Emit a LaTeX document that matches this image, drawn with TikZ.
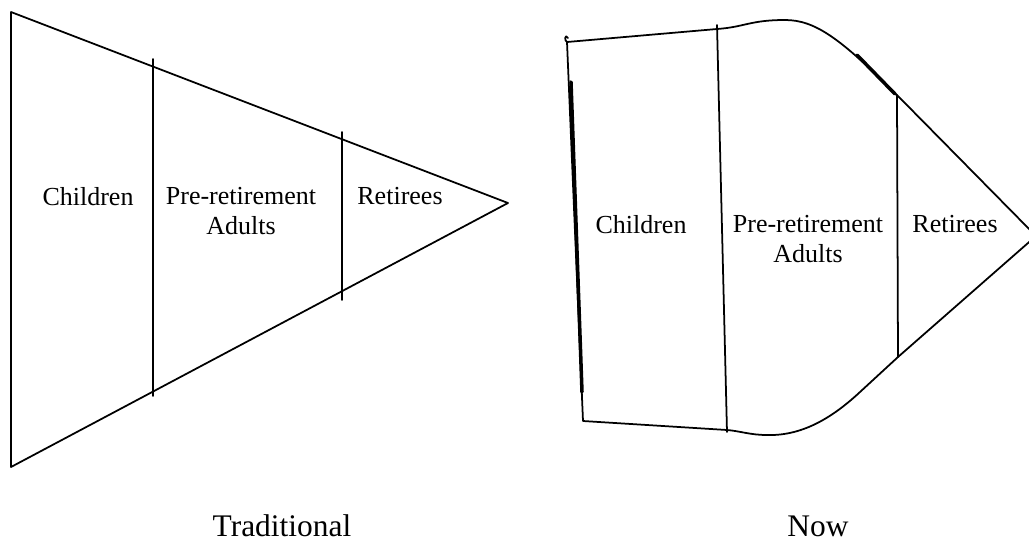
\documentclass[tikz,border=0pt]{standalone}
\usepackage{fontspec}
\setmainfont{Liberation Serif}

\begin{document}
\begin{tikzpicture}[x=0.02cm,y=-0.02cm,line cap=round,line join=round,
				edge/.style={line width=1pt},
				heavy/.style={line width=2pt},
				lbl/.style={inner sep=0pt,anchor=north,align=center,font=\fontsize{14.8}{17}\selectfont},
				ttl/.style={inner sep=0pt,anchor=base,font=\fontsize{17.9}{21}\selectfont}]
				\useasboundingbox (0,0) rectangle (1029,542);
				\clip (0,0) rectangle (1029,542);
				%\draw[help lines] (0,0) grid[step=50] (1029,542);
				% traditional
				\coordinate (t1) at (11,12);
				\coordinate (t2) at (508,203);
				\coordinate (t3) at (11,467);
				\draw[edge] (t1) -- (t2) -- (t3) -- cycle;
				\draw[edge] (153,59) -- (153,396);
				\draw[edge] (342,132) -- (342,300);
				\foreach \X/\T [count=\Y] in {88/Children,241/{Pre-retirement\\Adults},400/Retirees}
				{\path (\X,187) node(l\Y)[lbl]{\T};}
				\path (282,536) node(ltrad)[ttl]{Traditional};
				
				% now
				\coordinate (n1) at (567,42);
				\coordinate (n2) at (717,29);
				\coordinate (n3) at (897,95);
				\coordinate (n4) at (1036,236);
				\coordinate (n5) at (898,357);
				\coordinate (n6) at (727,430);
				\coordinate (n7) at (583,421);
				\draw[edge] (n1) -- (n2) .. controls (745,27) and (750,20) .. (785,20)
					.. controls (815,20) and (840,38) .. (n3) -- (n4) -- (n5) -- (860,392)
					.. controls (830,420) and (800,436) .. (767,435)
					.. controls (750,435) and (740,431) .. (n6) -- (n7) -- cycle;
				\draw[edge] (n1) .. controls (564,41) and (565,33) .. (568,38);
				\draw[heavy] (571,82) -- (582,392);
				\draw[heavy] (857,55) -- (895,94);
				\draw[edge] (717,25) -- (727,432);
				\draw[edge] (897,95) -- (898,357);
				\foreach \X/\T [count=\Y] in {641/Children,808/{Pre-retirement\\Adults},955/Retirees}
				{\path (\X,215) node(r\Y)[lbl]{\T};}
				\path (818,536) node(lnow)[ttl]{Now};
			\end{tikzpicture}
\end{document}
